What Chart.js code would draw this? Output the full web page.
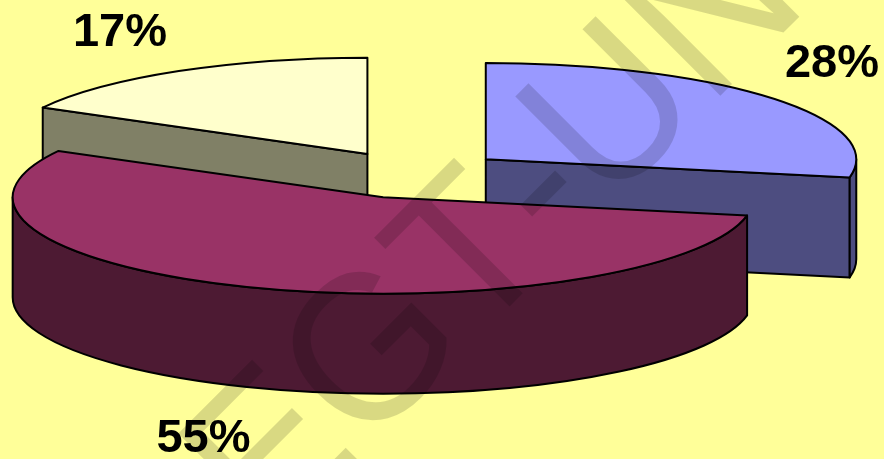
<!DOCTYPE html>
<html>
<head>
<meta charset="utf-8">
<script src="https://cdn.jsdelivr.net/npm/chart.js@4"></script>
<style>
html,body{margin:0;padding:0;background:#ffff99;overflow:hidden}
canvas{display:block}
</style>
</head>
<body>
<canvas id="c" width="884" height="459"></canvas>
<script>
const categories = ['28%', '55%', '17%'];
const values = [28, 55, 17];
const topColors = ['#9999ff', '#993366', '#ffffcc'];
const sideColors = ['#4d4d80', '#4d1a33', '#808066'];
const labelSpots = [[832, 77], [203.5, 452], [120, 46]];

const view = {radius: 370.5, tilt: 0.26, explode: 92.5, depth: 100, centerY: 174.7, line: 2};
const mark = {text: 'EGT-UN', font: '200px "Liberation Sans"', x: 408, y: 408, stretch: 1.05, color: 'rgba(0,0,0,0.15)'};
const labelFont = 'bold 47px "Liberation Sans"';

const pie3d = {
  id: 'pie3d',
  beforeDatasetsDraw(chart) {
    const ctx = chart.ctx;
    const arcs = chart.getDatasetMeta(0).data;
    const k = view.tilt, h = view.depth;
    const items = arcs.map((arc, i) => {
      const mid = (arc.startAngle + arc.endAngle) / 2;
      return {
        arc, i,
        cx: arc.x + Math.cos(mid) * view.explode,
        cy: view.centerY + Math.sin(mid) * view.explode * k
      };
    }).sort((a, b) => a.cy - b.cy);

    ctx.save();
    ctx.lineWidth = view.line;
    ctx.lineJoin = 'round';
    ctx.strokeStyle = '#000';
    for (const it of items) {
      const {arc, i, cx, cy} = it;
      const R = arc.outerRadius;
      const a0 = arc.startAngle, a1 = arc.endAngle;
      ctx.fillStyle = sideColors[i];
      // cut faces that look toward the viewer
      [[a0, a0 - Math.PI / 2], [a1, a1 + Math.PI / 2]].forEach(([a, n]) => {
        if (Math.sin(n) <= 1e-6) return;
        const ex = cx + Math.cos(a) * R, ey = cy + Math.sin(a) * R * k;
        ctx.beginPath();
        ctx.moveTo(cx, cy);
        ctx.lineTo(ex, ey);
        ctx.lineTo(ex, ey + h);
        ctx.lineTo(cx, cy + h);
        ctx.closePath();
        ctx.fill();
        ctx.stroke();
      });
      // rim, front half only
      const v0 = Math.max(a0, 0), v1 = Math.min(a1, Math.PI);
      if (v1 > v0) {
        ctx.beginPath();
        ctx.ellipse(cx, cy, R, R * k, 0, v0, v1);
        ctx.ellipse(cx, cy + h, R, R * k, 0, v1, v0, true);
        ctx.closePath();
        ctx.fill();
        ctx.stroke();
      }
      // top face, drawn by the arc element itself
      ctx.save();
      ctx.translate(cx, cy);
      ctx.scale(1, k);
      ctx.translate(-arc.x, -arc.y);
      arc.draw(ctx);
      ctx.beginPath();
      ctx.moveTo(arc.x, arc.y);
      ctx.arc(arc.x, arc.y, R, a0, a1);
      ctx.closePath();
      ctx.restore();
      ctx.stroke();
    }
    ctx.restore();
    return false;
  },
  afterDraw(chart) {
    const ctx = chart.ctx;
    ctx.save();
    ctx.fillStyle = '#000';
    ctx.font = labelFont;
    ctx.textAlign = 'center';
    ctx.textBaseline = 'alphabetic';
    categories.forEach((t, i) => ctx.fillText(t, labelSpots[i][0], labelSpots[i][1]));
    ctx.restore();

    ctx.save();
    ctx.translate(mark.x, mark.y);
    ctx.rotate(-Math.PI / 4);
    ctx.scale(1, mark.stretch);
    ctx.font = mark.font;
    ctx.fontKerning = 'none';
    ctx.fillStyle = mark.color;
    ctx.textAlign = 'left';
    ctx.textBaseline = 'alphabetic';
    ctx.fillText(mark.text, -197, 0);
    ctx.restore();
  }
};

new Chart(document.getElementById('c'), {
  type: 'pie',
  data: {
    labels: categories,
    datasets: [{
      data: values,
      backgroundColor: topColors,
      borderWidth: 0,
      clip: false
    }]
  },
  options: {
    responsive: false,
    animation: false,
    radius: view.radius,
    layout: {padding: {right: 55}},
    plugins: {legend: {display: false}, tooltip: {enabled: false}}
  },
  plugins: [pie3d]
});
</script>
</body>
</html>
